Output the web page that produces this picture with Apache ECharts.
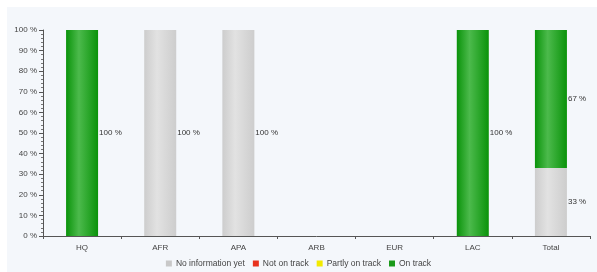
<!DOCTYPE html>
<html>
<head>
<meta charset="utf-8">
<script src="https://cdn.jsdelivr.net/npm/echarts@6/dist/echarts.min.js"></script>
<style>
  html, body { margin: 0; padding: 0; background: #fff; }
  .panel { position: absolute; left: 7px; top: 7px; width: 590px; height: 265px; background: #f4f7fb; }
  #chart { position: absolute; left: 0; top: 0; width: 597px; height: 272px; }
</style>
</head>
<body>
<div class="panel"></div>
<div id="chart"></div>
<script>
// categories and values (percent)
const categories = ['HQ', 'AFR', 'APA', 'ARB', 'EUR', 'LAC', 'Total']
const noInfo = [0, 100, 100, 0, 0, 0, 33]
const notOnTrack = [0, 0, 0, 0, 0, 0, 0]
const partlyOnTrack = [0, 0, 0, 0, 0, 0, 0]
const onTrack = [100, 0, 0, 0, 0, 100, 67]

// bar gradient, lighter just left of the middle
function barGrad(edge, light) {
  return new echarts.graphic.LinearGradient(0, 0, 1, 0, [
    { offset: 0, color: edge },
    { offset: 0.4, color: light },
    { offset: 1, color: edge },
  ])
}

const labelCfg = {
  show: true,
  position: 'right',
  distance: 1,
  fontSize: 8,
  fontFamily: 'Liberation Sans',
  color: '#333',
  formatter: p => (p.value ? p.value + ' %' : ''),
}

function makeSeries(name, data, color, fill) {
  return {
    name: name,
    type: 'bar',
    stack: 'all',
    barWidth: 32,
    data: data.map(v => (v ? v : null)),
    itemStyle: { color: fill || color },
    label: labelCfg,
  }
}

let myCharts = echarts.init(document.getElementById('chart'))
myCharts.setOption({
  animation: false,
  textStyle: { fontFamily: 'Liberation Sans' },
  grid: { left: 43, right: 7, top: 30, bottom: 36 },
  legend: {
    bottom: -1,
    left: 'center',
    itemWidth: 6,
    itemHeight: 6,
    itemGap: 8,
    icon: 'rect',
    textStyle: { fontSize: 8.5, color: '#444', padding: [0, 0, 0, -1] },
    data: [
      { name: 'No information yet', itemStyle: { color: '#c8c8c8' } },
      { name: 'Not on track', itemStyle: { color: '#e8321e' } },
      { name: 'Partly on track', itemStyle: { color: '#f2ea00' } },
      { name: 'On track', itemStyle: { color: '#1a9a1a' } },
    ],
  },
  xAxis: {
    type: 'category',
    data: categories,
    axisLine: { show: true, lineStyle: { color: '#555' } },
    axisTick: { show: true, length: 3, lineStyle: { color: '#555' } },
    axisLabel: { fontSize: 8, color: '#444', margin: 8 },
    splitLine: { show: false },
  },
  yAxis: {
    type: 'value',
    min: 0,
    max: 100,
    interval: 10,
    axisLine: { show: true, lineStyle: { color: '#555' } },
    axisTick: { show: true, length: 4, lineStyle: { color: '#555' } },
    minorTick: { show: true, splitNumber: 5, length: 2, lineStyle: { color: '#777' } },
    axisLabel: { fontSize: 8, color: '#444', margin: 6, formatter: '{value} %' },
    splitLine: { show: false },
  },
  series: [
    makeSeries('No information yet', noInfo, '#c8c8c8', barGrad('#cdcdcd', '#e2e2e2')),
    makeSeries('Not on track', notOnTrack, '#e8321e'),
    makeSeries('Partly on track', partlyOnTrack, '#f2ea00'),
    makeSeries('On track', onTrack, '#1a9a1a', barGrad('#0a930a', '#4cba4c')),
  ],
})
</script>
</body>
</html>
